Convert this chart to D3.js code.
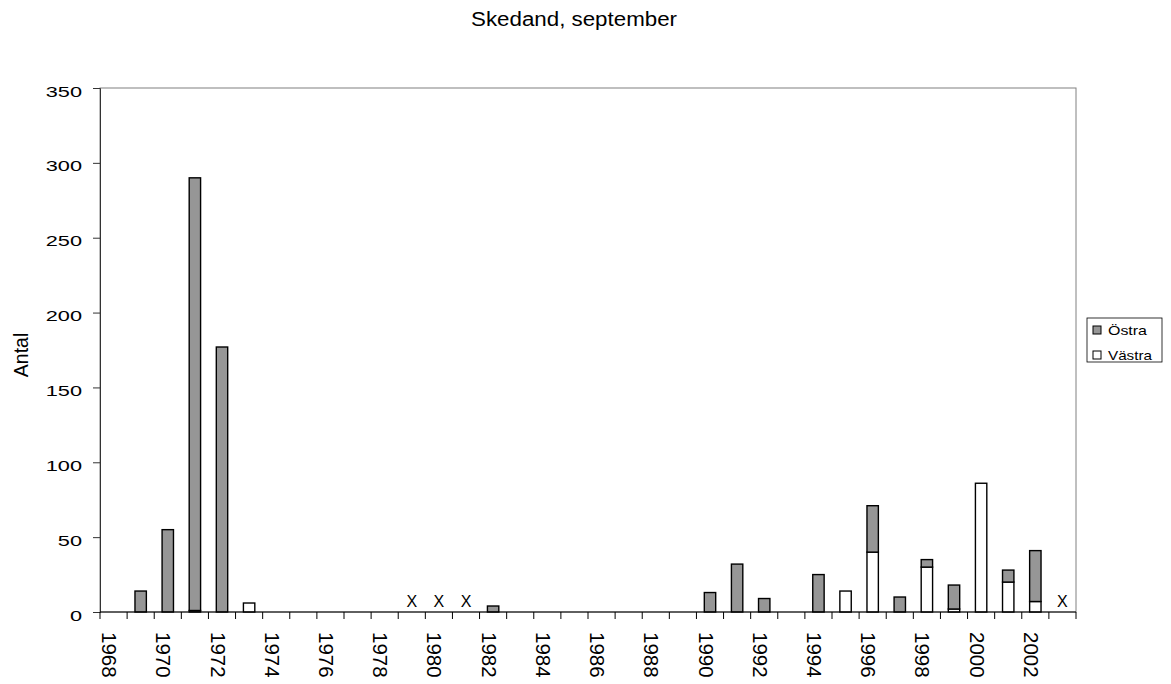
<!DOCTYPE html>
<html><head><meta charset="utf-8">
<script src="https://cdn.jsdelivr.net/npm/d3@7"></script>
<style>body{margin:0;background:#fff;} text{font-family:"Liberation Sans",Arial,sans-serif;fill:#000;}</style>
</head><body><svg id="c" width="1171" height="684"></svg>
<script>
const years = d3.range(1968, 2004);
// null = missing (marked X)
const ostra =  [0,14,55,289,177,0,0,0,0,0,0,null,null,null,4,0,0,0,0,0,0,0,13,32,9,0,25,0,31,10,5,16,0,8,34,null];
const vastra = [0,0,0,1,0,6,0,0,0,0,0,null,null,null,0,0,0,0,0,0,0,0,0,0,0,0,0,14,40,0,30,2,86,20,7,null];
const yTicks = [0,50,100,150,200,250,300,350];
const seriesNames = ["Östra","Västra"];
const colors = {"Östra":"#969696","Västra":"#ffffff"};

const svg = d3.select("#c");
const L=100, R=1076, T=88, B=612;
const x = d3.scaleBand().domain(years).range([L,R]).paddingInner(0).paddingOuter(0);
const y = d3.scaleLinear().domain([0,350]).range([B,T]);

// plot border
svg.append("rect").attr("x",L).attr("y",T).attr("width",R-L).attr("height",B-T)
  .attr("fill","none").attr("stroke","#808080").attr("stroke-width",1);

svg.append("text").attr("x",574).attr("y",26).attr("text-anchor","middle")
  .style("font-size","20px").attr("textLength",206).attr("lengthAdjust","spacingAndGlyphs")
  .text("Skedand, september");

const data = years.map((yr,i)=>({year:yr, v:vastra[i], o:ostra[i]}));
const bw = x.bandwidth()*0.42;
const g = svg.append("g");
data.forEach(d=>{
  const cx = x(d.year)+x.bandwidth()/2;
  if(d.v===null){
    g.append("text").attr("x",cx).attr("y",B-5)
      .attr("text-anchor","middle").style("font-size","16px").text("X");
    return;
  }
  if(d.v>0) g.append("rect").attr("x",cx-bw/2).attr("y",y(d.v)).attr("width",bw).attr("height",y(0)-y(d.v))
     .attr("fill",colors["Västra"]).attr("stroke","#000").attr("stroke-width",1.4);
  if(d.o>0) g.append("rect").attr("x",cx-bw/2).attr("y",y(d.v+d.o)).attr("width",bw).attr("height",y(d.v)-y(d.v+d.o))
     .attr("fill",colors["Östra"]).attr("stroke","#000").attr("stroke-width",1.4);
});

// Y axis
const ya = svg.append("g").attr("transform",`translate(${L},0)`)
  .call(d3.axisLeft(y).tickValues(yTicks).tickSize(7).tickFormat(""));
ya.select(".domain").attr("stroke","#333");
ya.selectAll(".tick line").attr("stroke","#333");
yTicks.forEach(t=>{
  svg.append("text").attr("transform",`translate(82,${y(t)+8.5}) scale(1.45,1)`)
    .attr("text-anchor","end").style("font-size","15px").text(t);
});

// X axis: ticks at category boundaries
const xa = svg.append("g");
xa.append("line").attr("x1",L).attr("x2",R).attr("y1",B).attr("y2",B).attr("stroke","#000");
years.concat([2004]).forEach((yr,i)=>{
  const xx = L + i*x.step();
  xa.append("line").attr("x1",xx).attr("x2",xx).attr("y1",B).attr("y2",B+7).attr("stroke","#000");
});
years.filter(yr=>yr%2===0).forEach(yr=>{
  const cx = x(yr)+x.bandwidth()/2;
  xa.append("text").attr("transform",`translate(${cx-11.5},${632}) rotate(90)`)
    .attr("text-anchor","start").style("font-size","20.5px").text(yr);
});

svg.append("text").attr("transform","translate(28,355) rotate(-90)").attr("text-anchor","middle")
  .style("font-size","19.5px").text("Antal");

// legend
const lg = svg.append("g");
lg.append("rect").attr("x",1087).attr("y",318).attr("width",75).attr("height",44)
  .attr("fill","#fff").attr("stroke","#000").attr("stroke-width",0.8);
const legW = {"Östra":39,"Västra":44};
seriesNames.forEach((n,i)=>{
  const yy = 330 + i*25;
  lg.append("rect").attr("x",1093).attr("y",yy-4).attr("width",8).attr("height",8)
    .attr("fill",colors[n]).attr("stroke","#000").attr("stroke-width",1);
  lg.append("text").attr("x",1108).attr("y",yy+5).style("font-size","13px")
    .attr("textLength",legW[n]).attr("lengthAdjust","spacingAndGlyphs").text(n);
});
</script></body></html>
